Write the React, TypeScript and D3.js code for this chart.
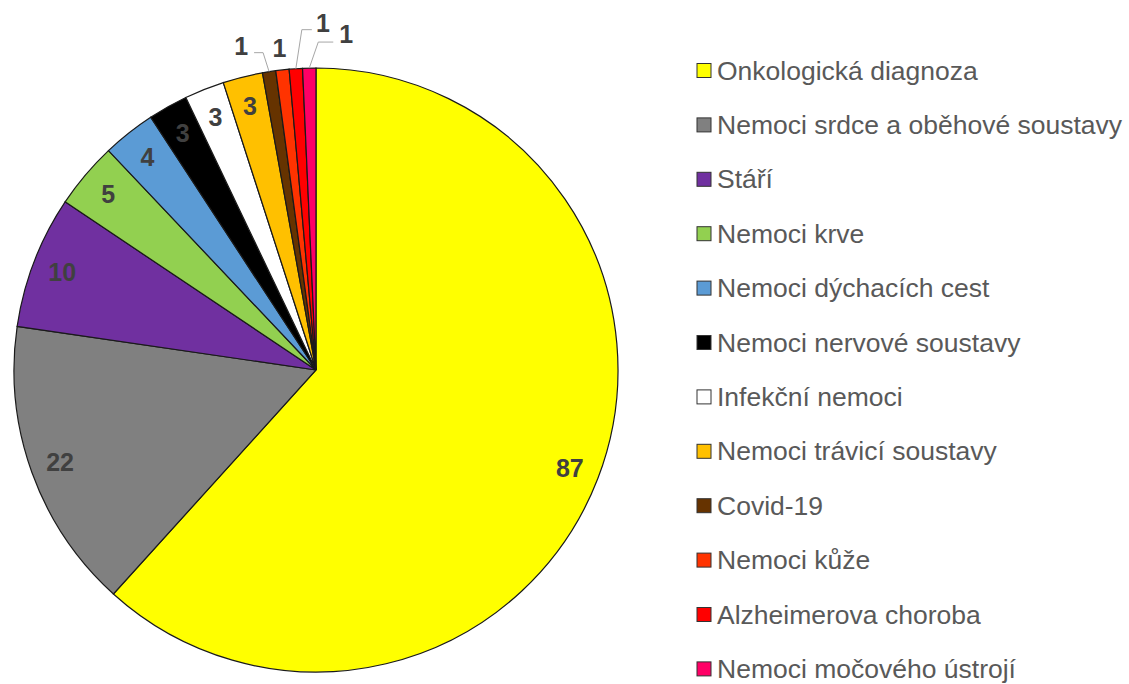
import React from "react";
import * as d3 from "d3";

const categories = [
  "Onkologická diagnoza",
  "Nemoci srdce a oběhové soustavy",
  "Stáří",
  "Nemoci krve",
  "Nemoci dýchacích cest",
  "Nemoci nervové soustavy",
  "Infekční nemoci",
  "Nemoci trávicí soustavy",
  "Covid-19",
  "Nemoci kůže",
  "Alzheimerova choroba",
  "Nemoci močového ústrojí",
];
const values = [87, 22, 10, 5, 4, 3, 3, 3, 1, 1, 1, 1];
const colors = [
  "#FFFF00",
  "#808080",
  "#7030A0",
  "#92D050",
  "#5B9BD5",
  "#000000",
  "#FFFFFF",
  "#FFC000",
  "#663300",
  "#FF3300",
  "#FF0000",
  "#FF0066",
];
// outside label placement for the small slices: [label dx, label dy] from arc edge, leader elbow/end relative to label
const outsideLabels: Record<number, { dx: number; dy: number; elbow?: [number, number]; end?: [number, number] }> = {
  8: { dx: -28, dy: -26, elbow: [22, 7], end: [13, 7] },
  9: { dx: -3, dy: -22 },
  10: { dx: 27, dy: -46, elbow: [-21, 7], end: [-11, 7] },
  11: { dx: 37, dy: -34, elbow: [-28, 8], end: [-13, 8] },
};

const W = 1129;
const H = 684;
const cx = 316;
const cy = 370;
const R = 302;
const labelR = 272;

export default function App() {
  const pie = d3.pie<number>().sort(null).value((d) => d).startAngle(0).endAngle(2 * Math.PI);
  const arcs = pie(values);
  const arc = d3.arc<d3.PieArcDatum<number>>().innerRadius(0).outerRadius(R);
  const labelArc = d3.arc<d3.PieArcDatum<number>>().innerRadius(labelR).outerRadius(labelR);
  const edgeArc = d3.arc<d3.PieArcDatum<number>>().innerRadius(R).outerRadius(R);

  const legendX = 697;
  const legendY0 = 70.5;
  const legendStep = 54.4;

  return (
    <svg
      width={W}
      height={H}
      style={{ position: "absolute", left: 0, top: 0, background: "#fff" }}
      fontFamily="'Liberation Sans', Arial, sans-serif"
    >
      <g transform={`translate(${cx},${cy})`}>
        {arcs.map((a, i) => (
          <path key={i} d={arc(a) || ""} fill={colors[i]} stroke="#1a1a1a" strokeWidth={1.2} />
        ))}
        {arcs.map((a, i) => {
          const o = outsideLabels[i];
          if (o) {
            const [ex, ey] = edgeArc.centroid(a);
            const lx = ex + o.dx;
            const ly = ey + o.dy;
            return (
              <g key={"l" + i}>
                {o.elbow && o.end && (
                  <polyline
                    points={`${ex},${ey} ${lx + o.elbow[0]},${ly + o.elbow[1]} ${lx + o.end[0]},${ly + o.end[1]}`}
                    fill="none"
                    stroke="#a6a6a6"
                    strokeWidth={1}
                  />
                )}
                <text
                  x={lx}
                  y={ly}
                  textAnchor="middle"
                  dominantBaseline="central"
                  fontSize={25}
                  fontWeight="bold"
                  fill="#404040"
                >
                  {values[i]}
                </text>
              </g>
            );
          }
          const [x, y] = labelArc.centroid(a);
          return (
            <text
              key={"l" + i}
              x={x}
              y={y}
              textAnchor="middle"
              dominantBaseline="central"
              fontSize={25}
              fontWeight="bold"
              fill="#404040"
            >
              {values[i]}
            </text>
          );
        })}
      </g>
      <g>
        {categories.map((c, i) => {
          const y = legendY0 + i * legendStep;
          return (
            <g key={c}>
              <rect x={legendX} y={y - 7} width={14} height={14} fill={colors[i]} stroke="#333" strokeWidth={1} />
              <text x={legendX + 20} y={y} dominantBaseline="central" fontSize={26.5} fill="#595959">
                {c}
              </text>
            </g>
          );
        })}
      </g>
    </svg>
  );
}
